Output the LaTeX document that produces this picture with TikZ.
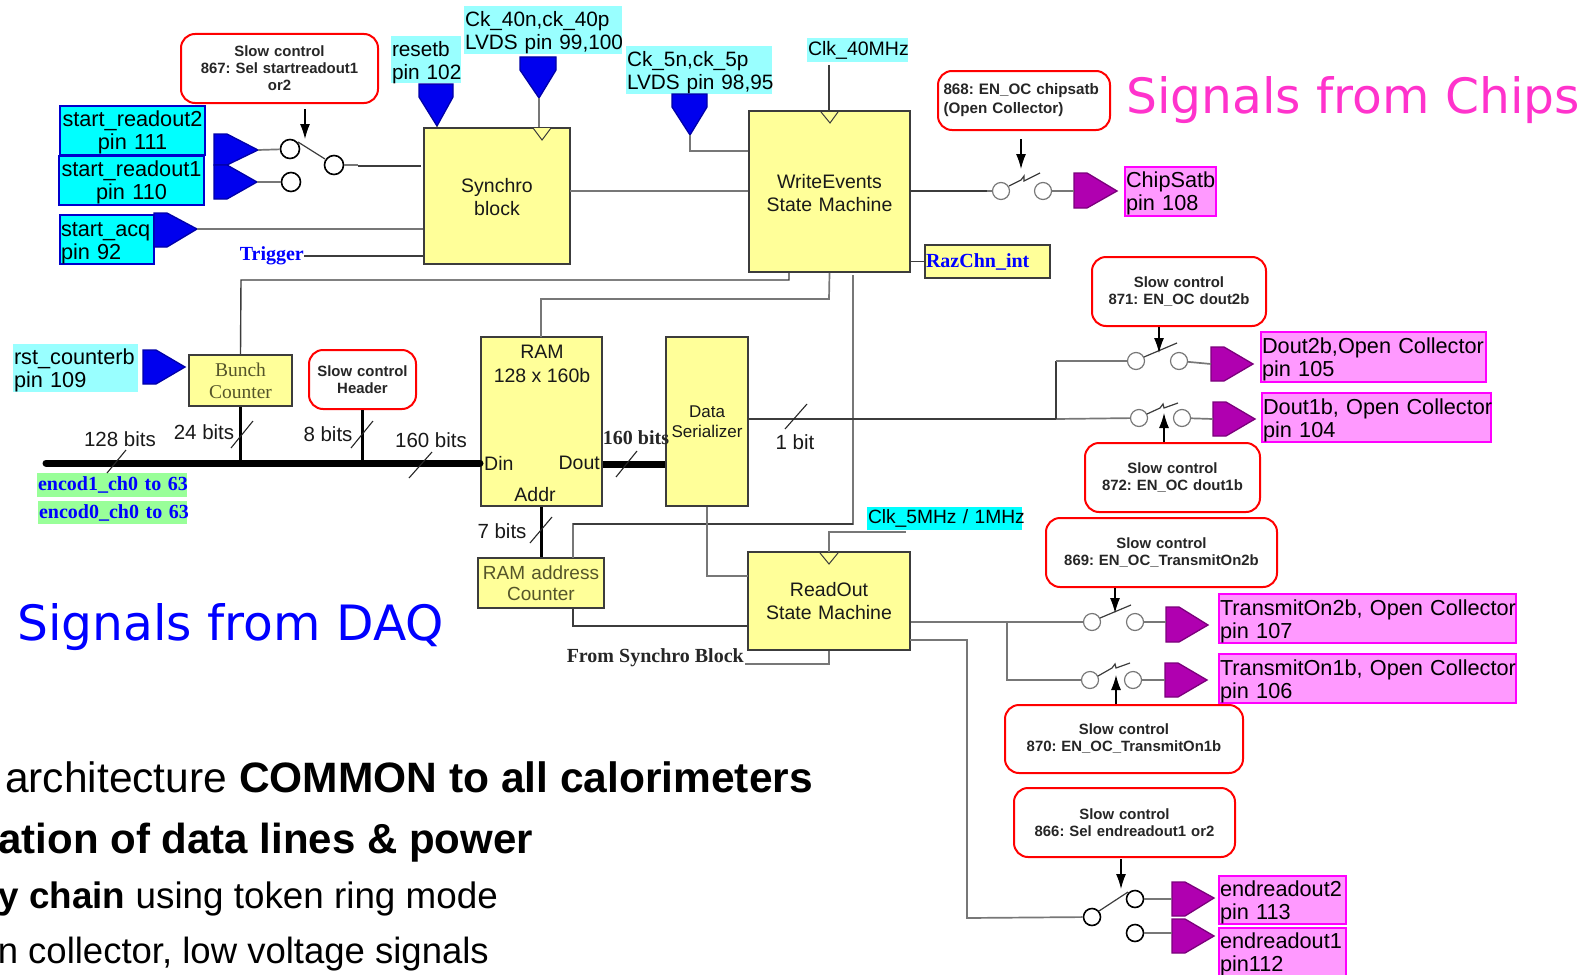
\documentclass[tikz,border=0pt]{standalone}
\usepackage{fontspec}
\usetikzlibrary{arrows.meta}
\setmainfont{Liberation Sans}
\newfontfamily\lser{Liberation Serif}
\newfontfamily\djfont{DejaVu Sans}
\frenchspacing
\definecolor{ybk}{HTML}{FFFF99}
\definecolor{cyA}{HTML}{00FFFF}
\definecolor{cyB}{HTML}{99FFFF}
\definecolor{mgA}{HTML}{FF99FF}
\definecolor{mgB}{HTML}{FF00FF}
\definecolor{pinM}{HTML}{B000B0}
\definecolor{pinB}{HTML}{0000EE}
\definecolor{grnB}{HTML}{99FF99}
\definecolor{wireG}{HTML}{777777}
\definecolor{wireD}{HTML}{3C3C3C}
\definecolor{olv}{HTML}{55552A}
\newcommand\lstrut{\rule{0pt}{20.5pt}}
\tikzset{
  yblock/.style={draw=wireD,line width=2,fill=ybk,inner sep=0,align=center,text=black!90,font=\fontsize{19.5}{23}\selectfont},
  ctext/.style={text=olv,font=\fontsize{19}{21}\selectfont},
  serblock/.style={text=olv,font=\lser\fontsize{19.5}{22}\selectfont},
  lab/.style={inner sep=0,align=left,font=\fontsize{21.7}{23}\selectfont},
  labC/.style={inner sep=0,align=center,font=\fontsize{21.7}{23}\selectfont},
  cyanBd/.style={lab,fill=cyA,draw=blue!80!black,line width=1.5},
  cyanBdC/.style={labC,fill=cyA,draw=blue!80!black,line width=1.5},
  cyanPl/.style={lab,fill=cyB,font=\fontsize{20.8}{23}\selectfont},
  magBd/.style={lab,fill=mgA,draw=mgB,line width=1.5},
  slowbox/.style={draw=red,line width=2,rounded corners=14,fill=white,inner sep=0,align=center,text=black!85,font=\bfseries\fontsize{14.9}{17}\selectfont},
  wireg/.style={draw=wireG,line width=1.7},
  wired/.style={draw=wireD,line width=1.4},
  bus/.style={draw=black,line width=7},
  stub/.style={draw=black,line width=2.8},
  slash/.style={draw=black!85,line width=1.1},
  ctl/.style={draw=black,line width=1.2,-{Latex[length=15,width=10]}},
  swc/.style={circle,draw=wireG,line width=1.2,fill=white,minimum size=17,inner sep=0},
  swk/.style={circle,draw=black,line width=1.6,fill=white,minimum size=19,inner sep=0},
  blade/.style={draw=wireD,line width=1.2},
  clk/.style={draw=wireD,line width=1,fill=ybk},
  bitlab/.style={inner sep=0,text=black!90,font=\fontsize{20.5}{24}\selectfont},
  sbtxt/.style={inner sep=0,font=\lser\bfseries\fontsize{20}{22}\selectfont},
  big/.style={inner sep=0,font=\djfont\fontsize{48.7}{52}\selectfont},
  bot/.style={inner sep=0,text=black,anchor=base west}
}
% box by corners
\newcommand\bx[7]{%
  \pgfmathsetmacro\bw{#5-#3}\pgfmathsetmacro\bh{#6-#4}%
  \pgfmathsetmacro\bcx{(#3+#5)/2}\pgfmathsetmacro\bcy{(#4+#6)/2}%
  \pgfmathsetmacro\btw{#5-#3-2}%
  \node[#2,minimum width=\bw pt,minimum height=\bh pt,text width=\btw pt] (#1) at (\bcx,\bcy) {#7};}
% pin pointing right: name, fill, xl, xr, ytop, ytip, ybot
\newcommand\pinR[7]{%
  \pgfmathsetmacro\bsx{#3+13}%
  \draw[fill=#2,draw=#2!70!black,line width=1.3] (#3,#5) -- (\bsx,#5) -- (#4,#6) -- (\bsx,#7) -- (#3,#7) -- cycle;
  \coordinate (#1) at (#4,#6);\coordinate (#1-in) at (#3,#6);}
% pin pointing down: name, xl, xr, ytop, xtip, ytip
\newcommand\pinD[6]{%
  \pgfmathsetmacro\bsy{#4+13}%
  \draw[fill=pinB,draw=pinB!70!black,line width=1.3] (#2,#4) -- (#2,\bsy) -- (#5,#6) -- (#3,\bsy) -- (#3,#4) -- cycle;
  \coordinate (#1) at (#5,#6);}
\begin{document}
\begin{tikzpicture}[x=1pt,y=-1pt]
\path[use as bounding box,clip] (0,0) rectangle (1589,974);
% blocks
\bx{syn}{yblock}{424}{128}{570}{264}{\rule{0pt}{17pt}Synchro\\block}
\bx{we}{yblock}{749}{111}{910}{272}{\rule{0pt}{17pt}WriteEvents\\State Machine}
\bx{ro}{yblock}{748}{552}{910}{650}{ReadOut\\State Machine}
\bx{bc}{yblock,serblock}{189}{355}{292}{406}{Bunch\\Counter}
\bx{addr}{yblock,ctext}{478}{558}{604}{608}{RAM address\\Counter}
\bx{ram}{yblock}{481}{337}{602}{506}{}
\bx{ser}{yblock,font=\fontsize{17}{19.5}\selectfont}{666}{337}{748}{506}{Data\\Serializer}
\bx{raz}{yblock,align=left,text=blue,font=\lser\bfseries\fontsize{20}{22}\selectfont}{925}{245}{1050}{278}{RazChn\_int}
\node[inner sep=0,align=center,font=\fontsize{19.5}{24}\selectfont,text=black!90] (ramt) at (542,364) {RAM\\128 x 160b};
\node[inner sep=0,anchor=west,font=\fontsize{19.5}{22}\selectfont,text=black!90] (din) at (484,463) {Din};
\node[inner sep=0,anchor=east,font=\fontsize{19.5}{22}\selectfont,text=black!90] (dout) at (600,463) {Dout};
\node[inner sep=0,font=\fontsize{19.5}{22}\selectfont,text=black!90] (adr) at (535,495) {Addr};
% label boxes
\bx{sr2}{cyanBdC}{60}{106}{205}{155}{\lstrut start\_readout2\\pin 111}
\bx{sr1}{cyanBdC}{59}{156}{204}{205}{\lstrut start\_readout1\\pin 110}
\bx{acq}{cyanBd}{60}{215}{154}{264}{\lstrut start\_acq\\pin 92}
\bx{rsb}{cyanPl}{391}{37}{461}{82}{\lstrut resetb\\\mbox{pin 102}}
\bx{ck40}{cyanPl}{464}{7}{622}{53}{\lstrut \mbox{Ck\_40n,ck\_40p}\\\mbox{LVDS pin 99,100}}
\bx{ck5}{cyanPl}{626}{47}{772}{93}{\lstrut \mbox{Ck\_5n,ck\_5p}\\\mbox{LVDS pin 98,95}}
\bx{clk40}{cyanPl,align=center,font=\fontsize{19.5}{22}\selectfont}{807}{38}{908}{62}{\mbox{Clk\_40MHz}}
\bx{clk5}{lab,fill=cyA,align=center,font=\fontsize{19.2}{22}\selectfont}{867}{507}{1022}{530}{\mbox{Clk\_5MHz / 1MHz}}
\bx{rstc}{cyanPl,font=\fontsize{21.7}{23}\selectfont}{13}{345}{138}{391}{\lstrut \mbox{rst\_counterb}\\pin 109}
\bx{chip}{magBd}{1125}{167}{1216}{216}{\lstrut ChipSatb\\pin 108}
\bx{d2}{magBd}{1261}{332}{1486}{382}{\lstrut \mbox{Dout2b,Open Collector}\\pin 105}
\bx{d1}{magBd}{1262}{393}{1491}{442}{\lstrut \mbox{Dout1b, Open Collector}\\pin 104}
\bx{t2}{magBd}{1219}{594}{1516}{643}{\lstrut \mbox{TransmitOn2b, Open Collector}\\pin 107}
\bx{t1}{magBd}{1219}{654}{1516}{703}{\lstrut \mbox{TransmitOn1b, Open Collector}\\pin 106}
\bx{e2}{magBd}{1219}{876}{1346}{924}{\lstrut \mbox{endreadout2}\\pin 113}
\bx{e1}{magBd}{1219}{928}{1346}{976}{\lstrut \mbox{endreadout1}\\pin112}
\bx{en1}{sbtxt,fill=grnB,text=blue,align=center}{37}{473}{187}{497}{\mbox{encod1\_ch0 to 63}}
\bx{en0}{sbtxt,fill=grnB,text=blue,align=center}{38}{501}{187}{524}{\mbox{encod0\_ch0 to 63}}
% slow control boxes
\bx{s867}{slowbox}{181}{34}{378}{103}{Slow control\\867: Sel startreadout1\\or2}
\bx{s868}{slowbox,align=left,font=\bfseries\fontsize{15.2}{19}\selectfont}{938}{71}{1110}{130}{\hspace*{4.5pt}868: EN\_OC chipsatb\\\hspace*{4.5pt}(Open Collector)}
\bx{s871}{slowbox}{1092}{257}{1266}{326}{Slow control\\871: EN\_OC dout2b}
\bx{s872}{slowbox}{1085}{443}{1260}{512}{Slow control\\872: EN\_OC dout1b}
\bx{s869}{slowbox}{1046}{518}{1277}{587}{Slow control\\869: EN\_OC\_TransmitOn2b}
\bx{s870}{slowbox}{1005}{705}{1243}{773}{Slow control\\870: EN\_OC\_TransmitOn1b}
\bx{s866}{slowbox}{1014}{788}{1235}{857}{Slow control\\866: Sel endreadout1 or2}
\bx{shd}{slowbox}{309}{350}{416}{409}{\mbox{Slow control}\\Header}
% pins
\pinR{psr2}{pinB}{214}{258}{134}{150}{165}
\pinR{psr1}{pinB}{214}{257}{165}{182}{199}
\pinR{pacq}{pinB}{154}{197}{213}{229}{247}
\pinR{prst}{pinB}{143}{185}{350}{367}{384}
\pinD{prs}{419}{453}{84}{437}{126}
\pinD{p40}{520}{556}{57}{539}{98}
\pinD{p5}{672}{707}{94}{690}{135}
\pinR{pchip}{pinM}{1074}{1117}{173}{191}{208}
\pinR{pd2}{pinM}{1211}{1253}{347}{364}{381}
\pinR{pd1}{pinM}{1213}{1255}{402}{419}{436}
\pinR{pt2}{pinM}{1166}{1208}{607}{625}{642}
\pinR{pt1}{pinM}{1165}{1207}{663}{680}{697}
\pinR{pe2}{pinM}{1172}{1214}{882}{898}{916}
\pinR{pe1}{pinM}{1172}{1214}{919}{936}{953}
% switches
\node[swk] (a1) at (290,149) {};
\node[swk] (a2) at (291,182) {};
\node[swk] (a3) at (334,165) {};
\node[swc] (b1) at (1001,191) {};
\node[swc] (b2) at (1043,191) {};
\node[swc] (c1) at (1136,361) {};
\node[swc] (c2) at (1179,361) {};
\node[swc] (d1l) at (1139,418) {};
\node[swc] (d2r) at (1182,418) {};
\node[swc] (f1) at (1092,622) {};
\node[swc] (f2) at (1135,622) {};
\node[swc] (g1) at (1090,680) {};
\node[swc] (g2) at (1133,680) {};
\node[swk,minimum size=17] (h1) at (1092,917) {};
\node[swk,minimum size=17] (h2) at (1135,899) {};
\node[swk,minimum size=17] (h3) at (1135,933) {};
\draw[blade] (298,142) -- (325,159);
\draw[blade] (1009,186) -- (1021,180) -- (1024,176) -- (1024,181) -- (1040,173);
\draw[blade] (1144,357) -- (1177,343);
\draw[blade] (1147,414) -- (1160,408) -- (1163,404) -- (1164,408) -- (1178,403);
\draw[blade] (1100,618) -- (1131,605);
\draw[blade] (1098,676) -- (1112,668) -- (1115,664) -- (1116,668) -- (1130,663);
\draw[blade] (1099,911) -- (1128,892);
% clock marks
\draw[clk] (533,128) -- (542,140) -- (551,128);
\draw[clk] (821,112) -- (830,123) -- (838,112);
\draw[clk] (820,553) -- (829,564) -- (838,553);
% bus
\draw[bus,line cap=round] (46,463) -- (ram.west |- 0,463);
\draw[bus] (ram.east |- 0,464) -- (ser.west |- 0,464);
\draw[stub] (bc.south) -- (bc.south |- 0,463);
\draw[stub] (shd.south) -- (shd.south |- 0,463);
\draw[stub] (ram.south) -- (addr.north -| ram.south);
% wires
\draw[wireg] (psr2) -- (a1);
\draw[wireg] (psr1) -- (a2);
\draw[wireg] (a3) -- (358,165);
\draw[wired] (358,166) -- (421,166);
\draw[wireg] (pacq) -- (pacq -| syn.west);
\coordinate (trg) at (304,256);
\draw[wired] (trg) -- (trg -| syn.west);
\draw[wireg] (p40) -- (p40 |- syn.north);
\draw[wireg] (prs) -- (prs |- syn.north);
\coordinate (sw) at (570,191);
\draw[wireg] (sw) -- (sw -| we.west);
\draw[wireg] (p5) -- (p5 |- 0,151) -- (we.west |- 0,151);
\draw[wired] (829,65) -- (829,111);
\draw[wireg] (we.east |- b1) -- (b1);
\draw[wired] (we.east |- b1) -- (987,191);
\draw[wireg] (b2) -- (pchip-in);
\draw[wired] (we.east |- raz.west) -- (raz.west);
% from WriteEvents down
\draw[wired] (789,272) -- (789,280) -- (241,280) -- (bc.north);
\draw[wireg] (we.south) -- (829,299) -- (541,299) -- (541,337);
\draw[wireg] (853,275) -- (853,524) -- (573,524) -- (573,558);
\draw[wired] (573,524) -- (853,524);
\draw[wireg] (ser.south) -- (707,576) -- (748,576);
\draw[wired] (573,608) -- (573,626) -- (748,626);
\draw[wireg] (829,552) -- (829,532) -- (906,532);
\draw[wireg] (ro.south) -- (829,664) -- (745,664);
% serializer out
\draw[wired] (748,419) -- (1062,419);
\draw[wireg] (1056,419) -- (d1l);
\draw[wired] (1056,419) -- (1056,361);
\draw[wireg] (1056,361) -- (c1);
\draw[wireg] (d2r) -- (pd1-in);
\draw[wireg] (c2) -- (pd2-in);
% ReadOut out
\draw[wireg] (ro.east |- 0,622) -- (f1);
\draw[wireg] (1007,622) -- (1007,680) -- (g1);
\draw[wireg] (f2) -- (pt2-in |- f2);
\draw[wireg] (g2) -- (pt1-in);
\draw[wireg] (910,640) -- (967,640) -- (967,918) -- (h1);
\draw[wireg] (h2) -- (pe2-in |- h2);
\draw[wireg] (h3) -- (pe1-in |- h3);
% control arrows
\draw[ctl] (305,109) -- (305,139);
\draw[ctl] (1021,139) -- (1021,169);
\draw[ctl] (1159,0 |- s871.south) -- (1159,353);
\draw[ctl] (1164,0 |- s872.north) -- (1164,413);
\draw[ctl] (1115,0 |- s869.south) -- (1115,613);
\draw[ctl] (1116,0 |- s870.north) -- (1116,675);
\draw[ctl] (1121,859) -- (1121,889);
% slashes
\draw[slash] (107,473) -- (126,450);
\draw[slash] (231,448) -- (253,421);
\draw[slash] (351,448) -- (373,421);
\draw[slash] (409,478) -- (432,452);
\draw[slash] (616,477) -- (637,451);
\draw[slash] (785,429) -- (807,404);
\draw[slash] (530,543) -- (552,517);
% texts
\node[bitlab] (b128) at (120,439) {128 bits};
\node[bitlab] (b24) at (204,432) {24 bits};
\node[bitlab] (b8) at (328,434) {8 bits};
\node[bitlab] (b160) at (431,440) {160 bits};
\node[bitlab] (b1t) at (795,442) {1 bit};
\node[bitlab] (b7) at (502,531) {7 bits};
\node[sbtxt,text=black!85] (b160b) at (636,438) {160 bits};
\node[sbtxt,text=blue,anchor=east] (trgt) at (trg) {Trigger};
\node[sbtxt,text=black!85,anchor=east] (fsb) at (744,658) {From Synchro Block};
\node[big,text=blue,anchor=base west] (daq) at (17,640) {Signals from DAQ};
\node[big,text={rgb,255:red,255;green,51;blue,204},anchor=base west] (chips) at (1126,113) {Signals from Chips};
% bottom text
\node[bot,font=\fontsize{42.5}{46}\selectfont] (l1) at (5,792) {architecture \textbf{COMMON to all calorimeters}};
\node[bot,anchor=base east,font=\bfseries\fontsize{42}{46}\selectfont] (l2) at (533,853) {ation of data lines \& power};
\node[bot,anchor=base east,font=\fontsize{36.8}{40}\selectfont] (l3) at (498,908) {\textbf{y chain} using token ring mode};
\node[bot,anchor=base east,font=\fontsize{36.5}{40}\selectfont] (l4) at (489,963) {n collector, low voltage signals};
\end{tikzpicture}
\end{document}
